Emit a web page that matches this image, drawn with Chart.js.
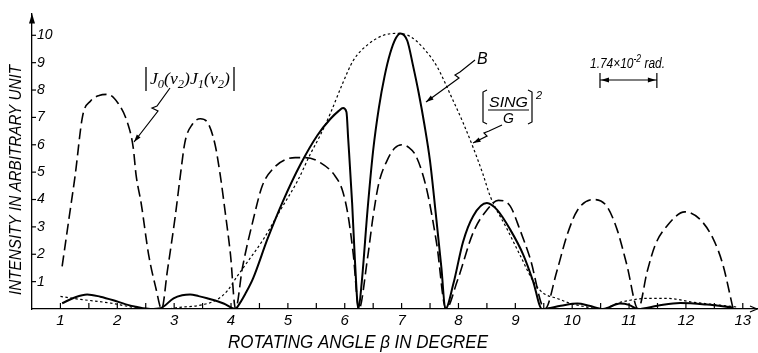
<!DOCTYPE html>
<html>
<head>
<meta charset="utf-8">
<script src="https://cdn.jsdelivr.net/npm/chart.js@4/dist/chart.umd.min.js"></script>
<style>
  html, body { margin: 0; padding: 0; background: #fff; }
  #wrap { width: 758px; height: 353px; }
</style>
</head>
<body>
<div id="wrap"><canvas id="chart" width="758" height="353"></canvas></div>
<script>
// rotating angle beta (degree) / intensity (arbitrary unit)
const jAngle = [1.03, 1.15, 1.26, 1.39, 1.53, 1.68, 1.83, 2.02, 2.18, 2.28, 2.33, 2.42, 2.55, 2.68, 2.78,
  2.88, 3.02, 3.11, 3.19, 3.32, 3.46, 3.6, 3.72, 3.81, 3.9, 3.99, 4.08,
  4.2, 4.39, 4.55, 4.75, 4.95, 5.13, 5.31, 5.57, 5.83, 5.96, 6.06, 6.15, 6.25,
  6.4, 6.5, 6.6, 6.75, 6.88, 7.01, 7.13, 7.24, 7.36, 7.47, 7.62, 7.78,
  7.98, 8.26, 8.5, 8.7, 8.91, 9.08, 9.26, 9.52,
  9.73, 9.91, 10.09, 10.38, 10.61, 10.79, 10.96, 11.16,
  11.32, 11.46, 11.67, 11.98, 12.25, 12.48, 12.65, 12.83];
const jIntensity = [1.56, 3.3, 4.9, 7.05, 7.6, 7.8, 7.84, 7.5, 6.8, 5.9, 4.9, 3.86, 2.0, 0.75, 0,
  1.38, 3.4, 4.9, 6.1, 6.75, 6.95, 6.77, 6.0, 4.9, 3.5, 2.0, 0,
  1.5, 3.26, 4.5, 5.15, 5.45, 5.53, 5.53, 5.35, 4.86, 4.33, 3.4, 2.0, 0,
  1.85, 3.4, 4.6, 5.45, 5.88, 6.0, 5.9, 5.64, 5.0, 4.1, 2.34, 0,
  1.03, 2.8, 3.62, 3.97, 3.76, 2.9, 1.85, 0,
  1.38, 2.7, 3.6, 4.0, 3.75, 2.9, 1.62, 0,
  1.38, 2.34, 3.04, 3.55, 3.27, 2.56, 1.62, 0];

const bAngle = [1.03, 1.25, 1.47, 1.7, 1.93, 2.15, 2.35, 2.58, 2.76, 2.99, 3.14, 3.28, 3.43, 3.58, 3.87, 4.08,
  4.11, 4.25, 4.39, 4.64, 4.92, 5.22, 5.52, 5.75, 5.89, 5.97, 6.03, 6.06, 6.13, 6.18, 6.24,
  6.3, 6.4, 6.5, 6.6, 6.7, 6.8, 6.9, 6.98, 7.1, 7.2, 7.3, 7.4, 7.5, 7.6, 7.7, 7.77,
  7.91, 8.08, 8.26, 8.5, 8.68, 8.91, 9.14, 9.31, 9.47,
  9.8, 10.09, 10.3, 10.54, 10.84, 11.0, 11.16, 11.5, 11.9, 12.37, 12.83];
const bIntensity = [0.21, 0.42, 0.53, 0.45, 0.32, 0.17, 0.07, 0, 0.03, 0.39, 0.5, 0.53, 0.47, 0.39, 0.2, 0,
  0.07, 0.55, 1.13, 2.55, 3.97, 5.28, 6.35, 6.95, 7.23, 7.34, 7.2, 6.24, 3.87, 1.74, 0,
  1.0, 3.6, 5.8, 7.35, 8.5, 9.35, 9.9, 10.07, 9.8, 8.9, 7.9, 6.75, 5.4, 3.5, 1.5, 0,
  0.92, 2.45, 3.4, 3.87, 3.62, 2.9, 1.98, 1.03, 0,
  0.12, 0.2, 0.12, 0, 0.2, 0.15, 0, 0.12, 0.22, 0.16, 0.05];

const sincAngle = [1.0, 1.35, 1.65, 1.93, 2.15, 2.35, 2.6, 2.8, 3.1, 3.51, 3.76, 3.93, 4.11, 4.3, 4.57, 4.87,
  5.17, 5.39, 5.57, 5.75, 5.96, 6.15, 6.4, 6.68, 6.94, 7.15, 7.38, 7.63, 7.85, 8.08, 8.26, 8.43,
  8.56, 8.86, 9.08, 9.31, 9.44, 9.56, 9.73, 9.96, 10.26, 10.54, 10.79, 11.02, 11.32, 11.67, 12.12, 12.6, 12.9];
const sincIntensity = [0.46, 0.35, 0.28, 0.2, 0.11, 0.04, 0, 0, 0.06, 0.16, 0.35, 0.65, 1.2, 1.75, 2.55, 3.62,
  4.68, 5.64, 6.35, 7.16, 8.23, 9.08, 9.65, 10.0, 10.07, 9.96, 9.54, 8.83, 7.87, 6.81, 5.89, 4.93,
  4.11, 2.9, 1.98, 1.03, 0.67, 0.5, 0.39, 0.21, 0.07, 0, 0.21, 0.32, 0.39, 0.39, 0.25, 0.14, 0.07];

const xTickLabels = [1, 2, 3, 4, 5, 6, 7, 8, 9, 10, 11, 12, 13];
const yTickLabels = [1, 2, 3, 4, 5, 6, 7, 8, 9, 10];

function toPoints(xs, ys) {
  return xs.map((x, i) => ({ x: x, y: ys[i] }));
}

// draws a string squeezed/stretched to a given width
function fitText(ctx, text, x, y, width, font, align) {
  ctx.save();
  ctx.font = font;
  const w = ctx.measureText(text).width;
  const s = width / w;
  ctx.translate(align === 'center' ? x - width / 2 : x, y);
  ctx.scale(s, 1);
  ctx.textAlign = 'left';
  ctx.fillText(text, 0, 0);
  ctx.restore();
}

// pieces: [text, 'n' | 'sub' | 'sup']
function drawPieces(ctx, pieces, x, y, width, size, family) {
  ctx.save();
  let total = 0;
  const fonts = pieces.map(p => 'italic ' + (p[1] === 'n' ? size : Math.round(size * 0.7)) + 'px ' + family);
  pieces.forEach((p, i) => { ctx.font = fonts[i]; total += ctx.measureText(p[0]).width; });
  const s = width / total;
  ctx.translate(x, y);
  ctx.scale(s, 1);
  let cx = 0;
  pieces.forEach((p, i) => {
    ctx.font = fonts[i];
    const dy = p[1] === 'sub' ? size * 0.25 : p[1] === 'sup' ? -size * 0.45 : 0;
    ctx.fillText(p[0], cx, dy);
    cx += ctx.measureText(p[0]).width;
  });
  ctx.restore();
}

function leader(ctx, pts) {
  ctx.beginPath();
  ctx.moveTo(pts[0][0], pts[0][1]);
  for (let i = 1; i < pts.length; i++) ctx.lineTo(pts[i][0], pts[i][1]);
  ctx.stroke();
  // arrow head at the last point
  const [x1, y1] = pts[pts.length - 2];
  const [x2, y2] = pts[pts.length - 1];
  const a = Math.atan2(y2 - y1, x2 - x1);
  ctx.beginPath();
  ctx.moveTo(x2, y2);
  ctx.lineTo(x2 - 8 * Math.cos(a - 0.3), y2 - 8 * Math.sin(a - 0.3));
  ctx.lineTo(x2 - 8 * Math.cos(a + 0.3), y2 - 8 * Math.sin(a + 0.3));
  ctx.closePath();
  ctx.fill();
}

const decorations = {
  id: 'decorations',
  afterDraw(chart) {
    const ctx = chart.ctx;
    const xs = chart.scales.x;
    const ys = chart.scales.y;
    const area = chart.chartArea;
    ctx.save();
    ctx.strokeStyle = '#000';
    ctx.fillStyle = '#000';
    ctx.lineWidth = 1.2;

    // inward tick marks
    for (let v = 1; v <= 13; v += 0.5) {
      const px = xs.getPixelForValue(v);
      ctx.beginPath();
      ctx.moveTo(px, area.bottom);
      ctx.lineTo(px, area.bottom - 6);
      ctx.stroke();
    }
    yTickLabels.forEach(v => {
      const py = ys.getPixelForValue(v);
      ctx.beginPath();
      ctx.moveTo(area.left, py);
      ctx.lineTo(area.left + 4, py);
      ctx.stroke();
    });

    // axis arrows
    ctx.beginPath();
    ctx.moveTo(area.left, area.top);
    ctx.lineTo(area.left - 3, area.top + 10);
    ctx.lineTo(area.left + 3, area.top + 10);
    ctx.closePath();
    ctx.fill();
    ctx.beginPath();
    ctx.moveTo(area.right - 7, area.bottom - 3);
    ctx.lineTo(area.right, area.bottom);
    ctx.lineTo(area.right - 7, area.bottom + 3);
    ctx.stroke();

    // axis titles
    ctx.textBaseline = 'alphabetic';
    fitText(ctx, 'ROTATING ANGLE \u03B2 IN DEGREE', 358, 348, 260, 'italic 18px "Liberation Sans"', 'center');
    ctx.save();
    ctx.translate(21, 180);
    ctx.rotate(-Math.PI / 2);
    fitText(ctx, 'INTENSITY IN ARBITRARY UNIT', 0, 0, 230, 'italic 17px "Liberation Sans"', 'center');
    ctx.restore();

    // |J0(v2)J1(v2)|
    ctx.lineWidth = 1.3;
    ctx.beginPath();
    ctx.moveTo(146, 67); ctx.lineTo(146, 91);
    ctx.moveTo(234, 67); ctx.lineTo(234, 91);
    ctx.stroke();
    drawPieces(ctx, [['J', 'n'], ['0', 'sub'], ['(v', 'n'], ['2', 'sub'], [')J', 'n'], ['1', 'sub'], ['(v', 'n'], ['2', 'sub'], [')', 'n']],
      150, 84, 80, 17, '"Liberation Serif"');
    ctx.lineWidth = 1.2;
    leader(ctx, [[170, 88], [157, 106], [152, 108], [158, 111], [134, 142]]);

    // B
    ctx.font = 'italic 16px "Liberation Sans"';
    ctx.textAlign = 'left';
    ctx.fillText('B', 477, 64);
    leader(ctx, [[475, 60], [460, 72], [455, 75], [459, 78], [426, 102]]);

    // [SING / G]^2
    ctx.beginPath();
    ctx.moveTo(487, 90); ctx.lineTo(483, 92); ctx.lineTo(483, 122); ctx.lineTo(487, 124);
    ctx.moveTo(528, 90); ctx.lineTo(532, 92); ctx.lineTo(532, 122); ctx.lineTo(528, 124);
    ctx.moveTo(488, 110); ctx.lineTo(529, 110);
    ctx.stroke();
    fitText(ctx, 'SING', 489, 107, 39, 'italic 14px "Liberation Sans"', 'left');
    ctx.font = 'italic 14px "Liberation Sans"';
    ctx.fillText('G', 503, 123);
    ctx.font = 'italic 11px "Liberation Sans"';
    ctx.fillText('2', 536, 99);
    leader(ctx, [[502, 125], [489, 131], [484, 133], [487, 136], [473, 143]]);

    // scale bar: one degree
    const deg = xs.getPixelForValue(1) - xs.getPixelForValue(0);
    const bx = 600, by = 80;
    drawPieces(ctx, [['1.74\u00D710', 'n'], ['-2', 'sup'], [' rad.', 'n']], 590, 68, 75, 14, '"Liberation Sans"');
    ctx.beginPath();
    ctx.moveTo(bx, by - 7); ctx.lineTo(bx, by + 8);
    ctx.moveTo(bx + deg, by - 7); ctx.lineTo(bx + deg, by + 8);
    ctx.moveTo(bx, by); ctx.lineTo(bx + deg, by);
    ctx.stroke();
    [[bx + 1, -1], [bx + deg - 1, 1]].forEach(([ax, dir]) => {
      ctx.beginPath();
      ctx.moveTo(ax, by);
      ctx.lineTo(ax - dir * 8, by - 2.5);
      ctx.lineTo(ax - dir * 8, by + 2.5);
      ctx.closePath();
      ctx.fill();
    });
    ctx.restore();
  }
};

const tickFont = { family: '"Liberation Sans"', style: 'italic', size: 15 };

new Chart(document.getElementById('chart'), {
  type: 'line',
  data: {
    datasets: [
      {
        label: '|J0(v2)J1(v2)|',
        data: toPoints(jAngle, jIntensity),
        borderColor: '#000',
        borderWidth: 1.6,
        borderDash: [11, 5],
        cubicInterpolationMode: 'monotone',
        pointRadius: 0,
        fill: false
      },
      {
        label: 'B',
        data: toPoints(bAngle, bIntensity),
        borderColor: '#000',
        borderWidth: 2,
        cubicInterpolationMode: 'monotone',
        pointRadius: 0,
        fill: false
      },
      {
        label: '[SING/G]^2',
        data: toPoints(sincAngle, sincIntensity),
        borderColor: '#000',
        borderWidth: 1.2,
        borderDash: [2.5, 2.5],
        cubicInterpolationMode: 'monotone',
        pointRadius: 0,
        fill: false
      }
    ]
  },
  options: {
    responsive: false,
    animation: false,
    layout: { padding: { top: 5, right: 1, left: 0, bottom: 0 } },
    plugins: { legend: { display: false }, tooltip: { enabled: false } },
    scales: {
      x: {
        type: 'linear',
        min: 0.5,
        max: 13.25,
        afterBuildTicks: s => { s.ticks = xTickLabels.map(v => ({ value: v })); },
        afterFit: s => { s.height = 44; },
        grid: { display: false, drawTicks: false },
        border: { display: true, color: '#000', width: 1.3 },
        ticks: { color: '#000', font: tickFont, padding: 3, maxRotation: 0, autoSkip: false }
      },
      y: {
        type: 'linear',
        min: 0,
        max: 10.8,
        afterBuildTicks: s => { s.ticks = yTickLabels.map(v => ({ value: v })); },
        afterFit: s => { s.width = 32; },
        grid: { display: false, drawTicks: false },
        border: { display: true, color: '#000', width: 1.3 },
        ticks: { color: '#000', font: { family: '"Liberation Sans"', style: 'italic', size: 14 }, mirror: true, padding: 5, autoSkip: false }
      }
    }
  },
  plugins: [decorations]
});
</script>
</body>
</html>
